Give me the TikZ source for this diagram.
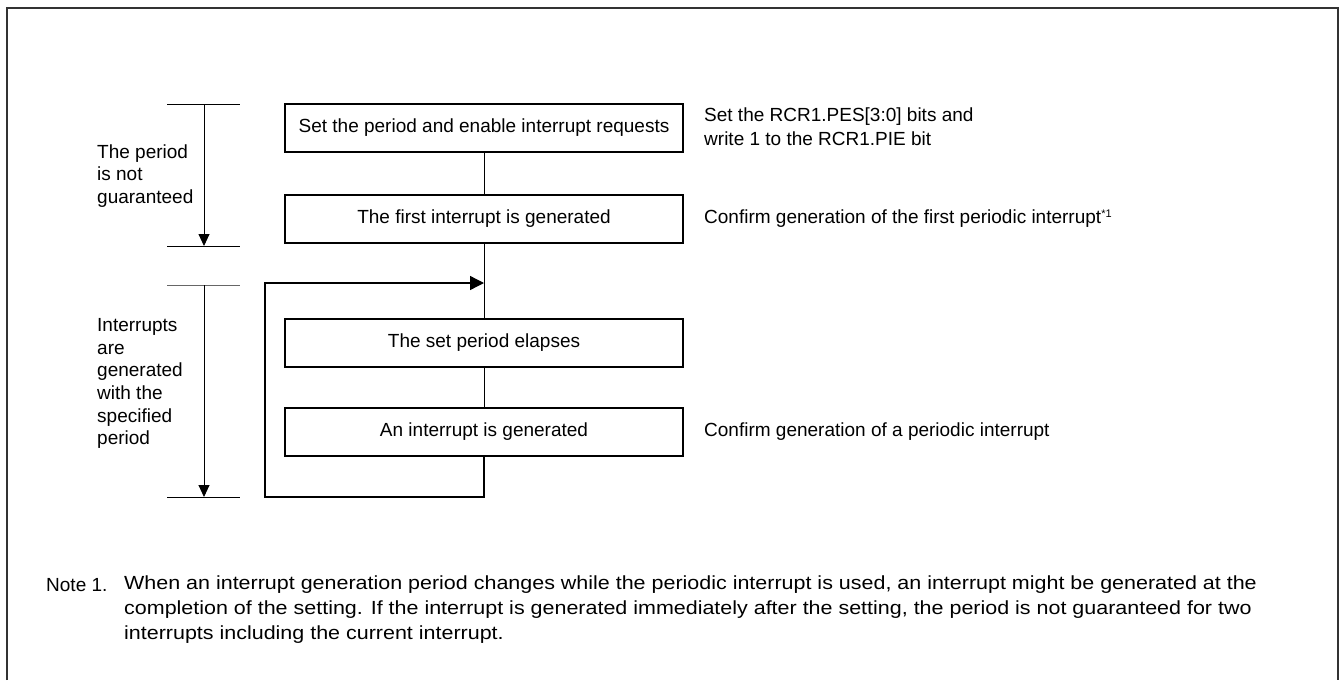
\documentclass[tikz,border=0pt]{standalone}
\usepackage{fontspec}
\setmainfont{Liberation Sans}
\usetikzlibrary{arrows.meta}
\begin{document}
\begin{tikzpicture}[x=1pt,y=-1pt,
  every node/.style={font=\fontsize{19}{22.7}\selectfont, inner sep=0pt},
  stepbox/.style={draw, line width=1.3pt, minimum width=398pt, minimum height=48pt, align=center},
  conn/.style={line width=1pt},
  thin/.style={line width=0.9pt},
  darr/.style={thin, -{Triangle[length=12pt,width=11pt]}},
  larr/.style={line width=1.3pt, -{Triangle[length=14pt,width=14pt]}},
  lbl/.style={anchor=west, align=left}]
\useasboundingbox (0,0) rectangle (1340,680);
% frame
\draw[line width=2pt, black!80] (7,680) -- (7,8) -- (1338,8) -- (1338,680);
% boxes
\node[stepbox] (b1) at (484,128) {Set the period and enable interrupt requests};
\node[stepbox] (b2) at (484,219) {The first interrupt is generated};
\node[stepbox] (b3) at (484,343) {The set period elapses};
\node[stepbox] (b4) at (484,432) {An interrupt is generated};
\coordinate (loopin) at (484,283);
\coordinate (loopbot) at (484,497);
\coordinate (loopleft) at (265,497);
\draw[conn] (b1.south) -- (b2.north);
\draw[conn] (b2.south) -- (b3.north);
\draw[conn] (b3.south) -- (b4.north);
\draw[larr] (b4.south) -- (loopbot) -- (loopleft) |- (loopin);
% brackets
\coordinate (t1l) at (167,104); \coordinate (t1r) at (240,104);
\coordinate (u1l) at (167,246); \coordinate (u1r) at (240,246);
\coordinate (t2l) at (167,285); \coordinate (t2r) at (240,285);
\coordinate (u2l) at (167,497); \coordinate (u2r) at (240,497);
\coordinate (a1s) at (204,104); \coordinate (a1e) at (204,246);
\coordinate (a2s) at (204,285); \coordinate (a2e) at (204,497);
\draw[thin] (t1l) -- (t1r);
\draw[thin] (u1l) -- (u1r);
\draw[thin, black!60] (t2l) -- (t2r);
\draw[thin] (u2l) -- (u2r);
\draw[darr] (a1s) -- (a1e);
\draw[darr] (a2s) -- (a2e);
\node[lbl] (l1) at (97,176) {The period\\is not\\guaranteed};
\node[lbl] (l2) at (97,383.5) {Interrupts\\are\\generated\\with the\\specified\\period};
% right notes
\node[lbl, font=\fontsize{19}{24}\selectfont] (r1) at (704,127) {Set the RCR1.PES[3:0] bits and\\write 1 to the RCR1.PIE bit};
\node[lbl] (r2) at (704,219) {Confirm generation of the first periodic interrupt\textsuperscript{\fontsize{11}{11}\selectfont *1}};
\node[lbl] (r4) at (704,432) {Confirm generation of a periodic interrupt};
% note
\node[anchor=west] (n0) at (46,585) {Note 1.};
\node[lbl, font=\fontsize{19}{25}\selectfont\addfontfeature{FakeStretch=1.13}] (n1) at (124,610) {When an interrupt generation period changes while the periodic interrupt is used, an interrupt might be generated at the\\completion of the setting. If the interrupt is generated immediately after the setting, the period is not guaranteed for two\\interrupts including the current interrupt.};
\end{tikzpicture}
\end{document}
